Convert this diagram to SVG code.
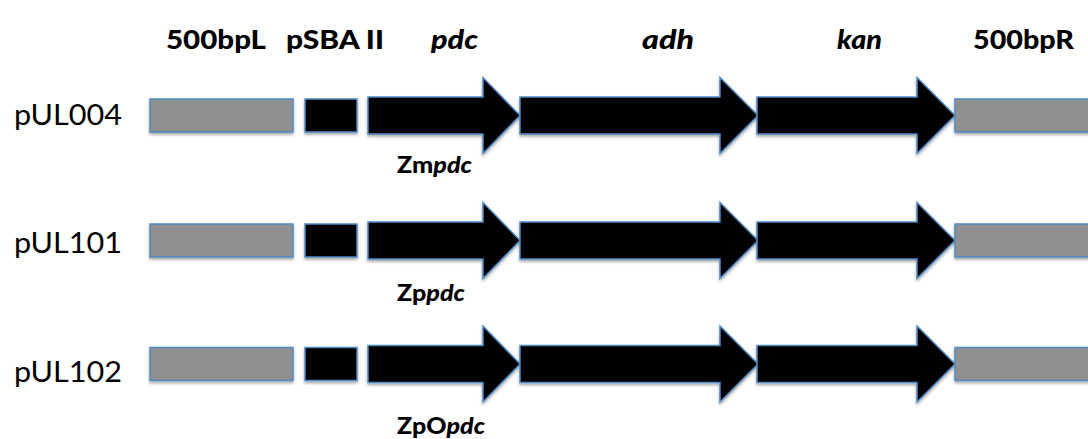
<svg xmlns="http://www.w3.org/2000/svg" xmlns:xlink="http://www.w3.org/1999/xlink" width="1088" height="439" viewBox="0 0 1088 439">
<defs>
<filter id="sh" x="-10%" y="-30%" width="120%" height="170%">
<feDropShadow dx="0" dy="2" stdDeviation="1.5" flood-color="#000" flood-opacity="0.35"/>
</filter>
<style>
.flank{fill:#8f8f8f;stroke:#4f8ac6;stroke-width:1.5;filter:url(#sh)}
.prom{fill:#000;stroke:#4f8ac6;stroke-width:1.5;filter:url(#sh)}
.gene{fill:#000;stroke:#4f8ac6;stroke-width:1.5;stroke-linejoin:miter;filter:url(#sh)}
.hdr{font-family:Lato,"Open Sans","Liberation Sans",sans-serif;font-weight:900;font-size:27px;fill:#000}
.it{font-style:italic}
.row{font-family:Lato,"Open Sans","Liberation Sans",sans-serif;font-size:29px;fill:#000}
.sub{font-family:Lato,"Open Sans","Liberation Sans",sans-serif;font-weight:900;font-size:22px;fill:#000}
</style>
</defs>
<rect width="1088" height="439" fill="#fff"/>

<g id="headers">
<text class="hdr" x="166" y="49" textLength="100" lengthAdjust="spacingAndGlyphs">500bpL</text>
<text class="hdr" x="286" y="49" textLength="98" lengthAdjust="spacingAndGlyphs">pSBA II</text>
<text class="hdr it" x="431" y="49" textLength="47" lengthAdjust="spacingAndGlyphs">pdc</text>
<text class="hdr it" x="642" y="49" textLength="52" lengthAdjust="spacingAndGlyphs">adh</text>
<text class="hdr it" x="837" y="49" textLength="45" lengthAdjust="spacingAndGlyphs">kan</text>
<text class="hdr" x="973" y="49" textLength="101" lengthAdjust="spacingAndGlyphs">500bpR</text>
</g>

<g id="pUL004" transform="translate(0,115.5)">
<text class="row" x="14" y="9.5" textLength="108" lengthAdjust="spacingAndGlyphs">pUL004</text>
<rect class="flank" x="150" y="-16.5" width="143" height="33"/>
<rect class="prom" x="305" y="-16.5" width="52" height="33"/>
<polygon class="gene" points="368,-18.5 483,-18.5 483,-38 520,0 483,38 483,18.5 368,18.5"/>
<polygon class="gene" points="520,-18.5 720,-18.5 720,-38 758,0 720,38 720,18.5 520,18.5"/>
<polygon class="gene" points="757,-18.5 917,-18.5 917,-38 955,0 917,38 917,18.5 757,18.5"/>
<rect class="flank" x="955" y="-16.5" width="140" height="33"/>
<text class="sub" x="397" y="57.5" textLength="75" lengthAdjust="spacingAndGlyphs"><tspan>Zm</tspan><tspan font-style="italic">pdc</tspan></text>
</g>

<g id="pUL101" transform="translate(0,240.5)">
<text class="row" x="14" y="12" textLength="108" lengthAdjust="spacingAndGlyphs">pUL101</text>
<rect class="flank" x="150" y="-16.5" width="143" height="33"/>
<rect class="prom" x="305" y="-16.5" width="52" height="33"/>
<polygon class="gene" points="368,-18.5 483,-18.5 483,-38 520,0 483,38 483,18.5 368,18.5"/>
<polygon class="gene" points="520,-18.5 720,-18.5 720,-38 758,0 720,38 720,18.5 520,18.5"/>
<polygon class="gene" points="757,-18.5 917,-18.5 917,-38 955,0 917,38 917,18.5 757,18.5"/>
<rect class="flank" x="955" y="-16.5" width="140" height="33"/>
<text class="sub" x="397" y="60" textLength="68" lengthAdjust="spacingAndGlyphs"><tspan>Zp</tspan><tspan font-style="italic">pdc</tspan></text>
</g>

<g id="pUL102" transform="translate(0,364)">
<text class="row" x="14" y="18" textLength="108" lengthAdjust="spacingAndGlyphs">pUL102</text>
<rect class="flank" x="150" y="-16.5" width="143" height="33"/>
<rect class="prom" x="305" y="-16.5" width="52" height="33"/>
<polygon class="gene" points="368,-18.5 483,-18.5 483,-38 520,0 483,38 483,18.5 368,18.5"/>
<polygon class="gene" points="520,-18.5 720,-18.5 720,-38 758,0 720,38 720,18.5 520,18.5"/>
<polygon class="gene" points="757,-18.5 917,-18.5 917,-38 955,0 917,38 917,18.5 757,18.5"/>
<rect class="flank" x="955" y="-16.5" width="140" height="33"/>
<text class="sub" x="397" y="70" textLength="88" lengthAdjust="spacingAndGlyphs"><tspan>ZpO</tspan><tspan font-style="italic">pdc</tspan></text>
</g>

<g id="connectors"/>
</svg>
